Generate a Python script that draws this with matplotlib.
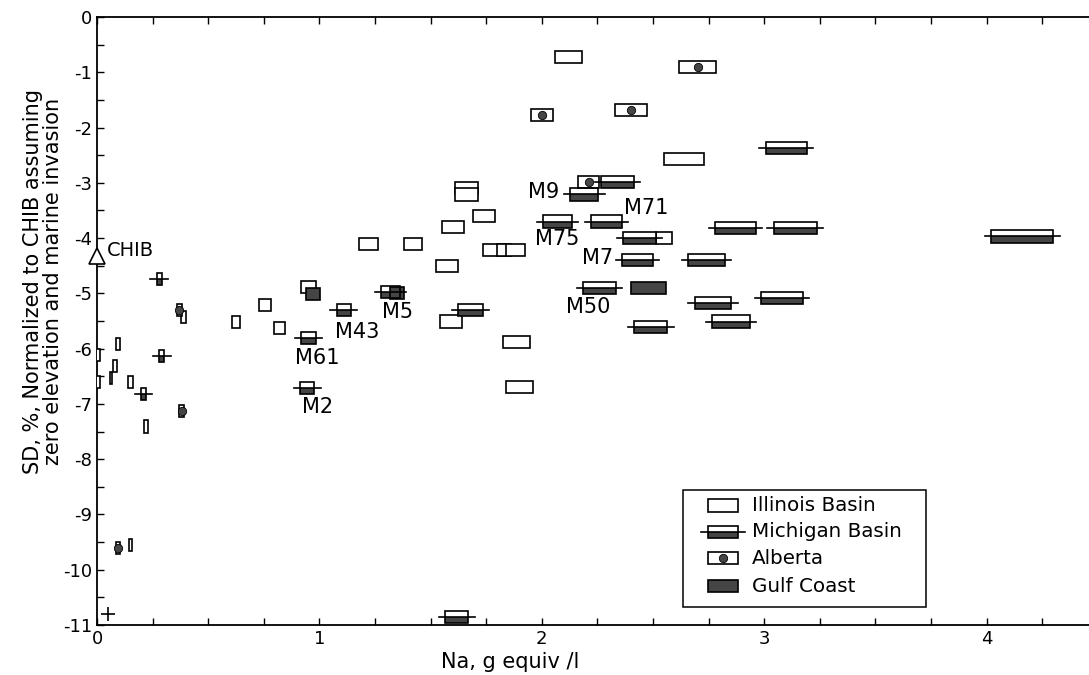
import numpy as np
import matplotlib
matplotlib.use("Agg")
from matplotlib import pyplot as plt
from matplotlib.patches import Rectangle

plt.rcParams['font.family'] = ['DejaVu Sans']
plt.rcParams['axes.unicode_minus'] = False

## Donnees : (Na, SD, largeur de la boite)

illinois_x = [0.0, 0.0, 0.063, 0.08, 0.095, 0.15, 0.22, 0.15, 0.39, 0.625, 0.755, 0.82, 0.95,
              1.22, 1.42, 1.575, 1.59, 1.60, 1.66, 1.66, 1.74, 1.785, 1.83, 1.88, 1.885, 1.90,
              2.12, 2.55, 2.64]
illinois_y = [-6.11, -6.61, -6.53, -6.31, -5.91, -6.60, -7.41, -9.55, -5.43, -5.52, -5.21, -5.62, -4.88,
              -4.10, -4.10, -4.50, -5.51, -3.80, -3.10, -3.21, -3.60, -4.21, -4.21, -4.21, -5.88, -6.70,
              -0.72, -4.00, -2.57]
illinois_w = [0.025, 0.025, 0.008, 0.02, 0.02, 0.022, 0.02, 0.015, 0.022, 0.032, 0.052, 0.052, 0.065,
              0.085, 0.082, 0.10, 0.10, 0.10, 0.105, 0.105, 0.10, 0.10, 0.06, 0.085, 0.12, 0.12,
              0.123, 0.07, 0.177]

michigan_x = [0.28, 0.29, 0.21, 0.945, 0.95, 1.11, 1.32, 1.68, 1.617, 2.19, 2.34, 2.07, 2.29,
              2.44, 2.43, 2.26, 2.49, 3.10, 2.87, 3.14, 2.74, 3.08, 2.77, 2.85, 4.16]
michigan_y = [-4.74, -6.14, -6.82, -6.71, -5.81, -5.30, -4.97, -5.30, -10.85, -3.21, -2.98, -3.70, -3.70,
              -4.00, -4.39, -4.90, -5.61, -2.37, -3.82, -3.82, -4.39, -5.08, -5.17, -5.51, -3.97]
michigan_w = [0.025, 0.025, 0.022, 0.065, 0.065, 0.065, 0.087, 0.11, 0.105, 0.128, 0.15, 0.13, 0.14,
              0.148, 0.138, 0.147, 0.15, 0.187, 0.185, 0.195, 0.165, 0.19, 0.165, 0.17, 0.28]

alberta_x = [0.095, 0.37, 0.38, 2.0, 2.21, 2.40, 2.70]
alberta_y = [-9.61, -5.30, -7.13, -1.78, -2.98, -1.68, -0.90]
alberta_w = [0.02, 0.02, 0.025, 0.10, 0.097, 0.142, 0.163]

gulf_x = [0.97, 1.35, 2.48]
gulf_y = [-5.01, -5.00, -4.90]
gulf_w = [0.065, 0.063, 0.155]

croix_x = [0.05]          # echantillon sans largeur (+)
croix_y = [-10.81]

chib_x, chib_y = 0.0, -4.33

etiquettes = ["M43", "M61", "M2", "M5", "M9", "M75", "M71", "M7", "M50"]
etiq_x = [1.17, 0.99, 0.99, 1.35, 2.01, 2.07, 2.47, 2.25, 2.21]
etiq_y = [-5.70, -6.17, -7.05, -5.33, -3.16, -4.01, -3.46, -4.36, -5.24]

legende = ["Illinois Basin", "Michigan Basin", "Alberta", "Gulf Coast"]

H = 0.22          # hauteur des boites
GRIS = '#454545'
LW = 1.2


def boite_ouverte(ax, x, y, w):
    ax.add_patch(Rectangle((x - w/2, y - H/2), w, H, fc='white', ec='black', lw=LW, zorder=3))


def boite_michigan(ax, x, y, w):
    ax.plot([x - w/2 - 0.028, x + w/2 + 0.028], [y, y], color='black', lw=LW, zorder=4)
    ax.add_patch(Rectangle((x - w/2, y - H/2), w, H/2, fc=GRIS, ec='none', zorder=3))
    ax.add_patch(Rectangle((x - w/2, y), w, H/2, fc='white', ec='none', zorder=3))
    ax.add_patch(Rectangle((x - w/2, y - H/2), w, H, fc='none', ec='black', lw=LW, zorder=4))


def boite_alberta(ax, x, y, w):
    boite_ouverte(ax, x, y, w)
    ax.plot([x], [y], 'o', color=GRIS, ms=6, mec='black', mew=0.6, zorder=5)


def boite_gulf(ax, x, y, w):
    ax.add_patch(Rectangle((x - w/2, y - H/2), w, H, fc=GRIS, ec='black', lw=LW, zorder=3))


fig = plt.figure(figsize=(10.89, 6.75), dpi=100)
ax = fig.add_axes([0.0891, 0.0741, 0.919, 0.9007])

for i in range(len(illinois_x)):
    boite_ouverte(ax, illinois_x[i], illinois_y[i], illinois_w[i])
for i in range(len(michigan_x)):
    boite_michigan(ax, michigan_x[i], michigan_y[i], michigan_w[i])
for i in range(len(alberta_x)):
    boite_alberta(ax, alberta_x[i], alberta_y[i], alberta_w[i])
for i in range(len(gulf_x)):
    boite_gulf(ax, gulf_x[i], gulf_y[i], gulf_w[i])

ax.plot(croix_x, croix_y, '+', color='black', ms=10, mew=1.2)
ax.plot([chib_x], [chib_y], '^', mfc='white', mec='black', ms=11, mew=1.2, clip_on=False, zorder=6)
ax.text(chib_x + 0.045, chib_y + 0.1, "CHIB", fontsize=14, va='center', ha='left')

for i in range(len(etiquettes)):
    ax.text(etiq_x[i], etiq_y[i], etiquettes[i], fontsize=15, ha='center', va='center')

ax.set_xlim(0, 4.5)
ax.set_ylim(-11, 0)
ax.set_xticks([0, 1, 2, 3, 4])
ax.set_xticks(np.arange(0, 4.5, 0.25), minor=True)
ax.set_yticks(np.arange(-11, 1, 1))
ax.set_yticks(np.arange(-11, 0.5, 0.5), minor=True)
ax.set_yticklabels([str(v) if v == 0 else "-" + str(-v) for v in range(-11, 1)])
ax.tick_params(which='both', direction='in', top=True, right=False, length=5, width=1, labelsize=13)
ax.spines['right'].set_visible(False)
for s in ['left', 'bottom', 'top']:
    ax.spines[s].set_linewidth(1.3)

ax.set_xlabel("Na, g equiv /l", fontsize=15)
ax.xaxis.set_label_coords(0.413, -0.045)
ax.set_ylabel("SD, %, Normalized to CHIB assuming\nzero elevation and marine invasion", fontsize=15,
              linespacing=1.0)
ax.yaxis.set_label_coords(-0.034, 0.565)

# legende dessinee a la main
tr = ax.transAxes
ax.add_patch(Rectangle((0.5855, 0.0296), 0.2425, 0.193, transform=tr, fc='white', ec='black', lw=1.1, zorder=7))
ly = [0.197, 0.153, 0.110, 0.064]
bx, bw, bh = 0.610, 0.030, 0.021
for k in range(4):
    y0 = ly[k] - bh/2
    if k == 0:
        ax.add_patch(Rectangle((bx, y0), bw, bh, transform=tr, fc='white', ec='black', lw=LW, zorder=8))
    elif k == 1:
        ax.plot([bx - 0.007, bx + bw + 0.007], [ly[k], ly[k]], transform=tr, color='black', lw=LW, zorder=9)
        ax.add_patch(Rectangle((bx, y0), bw, bh/2, transform=tr, fc=GRIS, ec='none', zorder=8))
        ax.add_patch(Rectangle((bx, ly[k]), bw, bh/2, transform=tr, fc='white', ec='none', zorder=8))
        ax.add_patch(Rectangle((bx, y0), bw, bh, transform=tr, fc='none', ec='black', lw=LW, zorder=9))
    elif k == 2:
        ax.add_patch(Rectangle((bx, y0), bw, bh, transform=tr, fc='white', ec='black', lw=LW, zorder=8))
        ax.plot([bx + bw/2], [ly[k]], 'o', transform=tr, color=GRIS, ms=6, mec='black', mew=0.6, zorder=9)
    else:
        ax.add_patch(Rectangle((bx, y0), bw, bh, transform=tr, fc=GRIS, ec='black', lw=LW, zorder=8))
    ax.text(0.654, ly[k], legende[k], transform=tr, fontsize=14.3, va='center', ha='left', zorder=9)

fig.savefig("out.png", dpi=100)
